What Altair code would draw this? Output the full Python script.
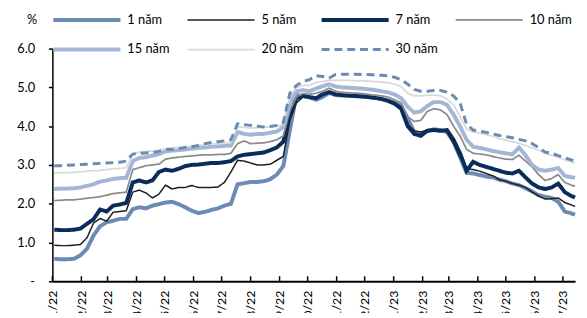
import altair as alt
import pandas as pd

series_names = ["1 năm", "5 năm", "7 năm", "10 năm", "15 năm", "20 năm", "30 năm"]
series_colors = ["#6b8bb5", "#1e1e1e", "#0a2c5a", "#8a8a8a", "#a3b6d3", "#d9d9d9", "#6b8bb5"]
series_widths = [4, 1.5, 4, 1.75, 4, 1.75, 3]
series_dashes = [[1, 0], [1, 0], [1, 0], [1, 0], [1, 0], [1, 0], [8, 5]]

dates = list(pd.date_range("2022-01-03", periods=80, freq="7D").strftime("%Y-%m-%d")) + ["2023-07-14"]
month_ticks = list(pd.date_range("2022-01-01", "2023-07-01", freq="MS").strftime("%Y-%m-%d"))
y_ticks = [0, 1, 2, 3, 4, 5, 6]

y1 = [0.58, 0.57, 0.57, 0.58, 0.67, 0.84, 1.18, 1.42, 1.52, 1.56, 1.61, 1.61, 1.86, 1.91, 1.88, 1.95, 1.99, 2.03, 2.05, 1.99, 1.91,
      1.82, 1.76, 1.79, 1.84, 1.88, 1.95, 2.0, 2.5, 2.53, 2.56, 2.56, 2.58, 2.63, 2.75, 2.97, 3.9, 4.8, 4.78, 4.74,
      4.68, 4.75, 4.86, 4.8, 4.79, 4.78, 4.77, 4.76, 4.75, 4.73, 4.7, 4.66, 4.6, 4.52, 4.2, 3.85, 3.8, 3.88, 3.92, 3.9,
      3.85, 3.6, 3.2, 2.8, 2.78, 2.74, 2.7, 2.68, 2.62, 2.58, 2.52, 2.48, 2.4, 2.32, 2.22, 2.18, 2.15, 2.05, 1.8, 1.75, 1.72]
y5 = [0.93, 0.92, 0.92, 0.93, 0.95, 1.12, 1.5, 1.62, 1.55, 1.78, 1.8, 1.82, 2.3, 2.35, 2.28, 2.15, 2.25, 2.48, 2.38, 2.42, 2.42,
      2.47, 2.42, 2.42, 2.42, 2.43, 2.55, 2.82, 3.12, 3.1, 3.05, 3.0, 3.0, 3.02, 3.12, 3.22, 4.15, 4.6, 4.75, 4.75,
      4.72, 4.8, 4.85, 4.8, 4.79, 4.78, 4.77, 4.76, 4.74, 4.72, 4.7, 4.66, 4.6, 4.5, 4.05, 3.88, 3.85, 3.9, 3.92, 3.9,
      3.85, 3.55, 3.2, 2.9, 2.88, 2.84, 2.78, 2.72, 2.62, 2.58, 2.52, 2.48, 2.42, 2.3, 2.2, 2.12, 2.13, 2.15, 2.03, 1.97, 1.93]
y7 = [1.33, 1.32, 1.32, 1.33, 1.36, 1.48, 1.6, 1.85, 1.8, 1.95, 1.98, 2.02, 2.55, 2.6, 2.55, 2.6, 2.82, 2.88, 2.85, 2.9, 2.97,
      3.0, 3.01, 3.03, 3.05, 3.05, 3.07, 3.1, 3.22, 3.26, 3.28, 3.3, 3.32, 3.38, 3.45, 3.6, 4.3, 4.72, 4.78, 4.75,
      4.72, 4.82, 4.88, 4.82, 4.8, 4.79, 4.78, 4.77, 4.75, 4.73, 4.7, 4.65, 4.58, 4.45, 4.0, 3.8, 3.75, 3.88, 3.9, 3.88,
      3.9, 3.65, 3.3, 2.85, 3.08, 3.0, 2.95, 2.9, 2.85, 2.8, 2.78, 2.85, 2.68, 2.52, 2.42, 2.38, 2.42, 2.52, 2.3, 2.2, 2.16]
y10 = [2.08, 2.09, 2.1, 2.1, 2.12, 2.14, 2.16, 2.18, 2.22, 2.26, 2.28, 2.3, 2.88, 2.93, 2.98, 3.0, 3.02, 3.15, 3.18, 3.2, 3.22,
       3.23, 3.25, 3.26, 3.26, 3.27, 3.27, 3.3, 3.55, 3.62, 3.55, 3.56, 3.57, 3.6, 3.65, 3.75, 4.4, 4.75, 4.84, 4.82,
       4.85, 4.9, 4.98, 4.9, 4.87, 4.86, 4.85, 4.84, 4.82, 4.8, 4.78, 4.75, 4.68, 4.6, 4.25, 4.12, 4.15, 4.38, 4.45, 4.42,
       4.3, 4.0, 3.75, 3.4, 3.3, 3.28, 3.26, 3.22, 3.18, 3.15, 3.14, 3.25, 3.1, 2.95, 2.75, 2.6, 2.65, 2.75, 2.55, 2.48, 2.45]
y15 = [2.38, 2.39, 2.39, 2.4, 2.42, 2.46, 2.5, 2.57, 2.6, 2.64, 2.66, 2.67, 3.1, 3.18, 3.2, 3.24, 3.28, 3.35, 3.37, 3.38, 3.4,
       3.42, 3.44, 3.45, 3.47, 3.48, 3.49, 3.5, 3.85, 3.8, 3.78, 3.8, 3.8, 3.83, 3.86, 3.98, 4.6, 4.9, 4.93, 4.9,
       4.97, 5.03, 5.08, 5.02, 5.0, 4.99, 4.98, 4.97, 4.95, 4.93, 4.9, 4.87, 4.82, 4.72, 4.5, 4.35, 4.38, 4.52, 4.62, 4.62,
       4.55, 4.3, 4.0, 3.65, 3.47, 3.44, 3.4, 3.36, 3.33, 3.3, 3.27, 3.45, 3.25, 3.0, 2.88, 2.85, 2.88, 2.92, 2.72, 2.68, 2.67]
y20 = [2.79, 2.8, 2.8, 2.81, 2.82, 2.84, 2.85, 2.86, 2.88, 2.9, 2.91, 2.93, 3.28, 3.33, 3.35, 3.36, 3.38, 3.42, 3.44, 3.45, 3.47,
       3.48, 3.5, 3.52, 3.54, 3.55, 3.56, 3.58, 3.98, 3.97, 3.95, 3.96, 3.97, 3.98, 4.0, 4.05, 4.75, 5.0, 5.05, 5.05,
       5.12, 5.15, 5.18, 5.18, 5.18, 5.18, 5.17, 5.17, 5.16, 5.15, 5.14, 5.12, 5.08, 5.02, 4.85, 4.78, 4.78, 4.8, 4.8, 4.78,
       4.7, 4.55, 4.25, 3.92, 3.85, 3.82, 3.78, 3.74, 3.68, 3.64, 3.6, 3.56, 3.5, 3.44, 3.38, 3.3, 3.25, 3.2, 3.13, 3.08, 3.05]
y30 = [2.98, 2.98, 2.99, 3.0, 3.01, 3.02, 3.03, 3.04, 3.05, 3.06, 3.07, 3.1, 3.28, 3.3, 3.31, 3.32, 3.35, 3.4, 3.4, 3.42, 3.45,
       3.47, 3.5, 3.55, 3.58, 3.6, 3.62, 3.65, 4.06, 4.04, 4.02, 4.0, 3.98, 3.99, 4.02, 4.1, 4.85, 5.05, 5.15, 5.2,
       5.3, 5.28, 5.24, 5.33, 5.34, 5.34, 5.34, 5.33, 5.33, 5.32, 5.31, 5.3, 5.26, 5.2, 5.08, 4.95, 4.9, 4.9, 4.92, 4.92,
       4.88, 4.78, 4.6, 4.05, 3.9, 3.87, 3.84, 3.8, 3.76, 3.73, 3.7, 3.66, 3.62, 3.55, 3.45, 3.33, 3.3, 3.24, 3.18, 3.13, 3.09]

all_values = [y1, y5, y7, y10, y15, y20, y30]

rows = []
for name, vals in zip(series_names, all_values):
    for d, v in zip(dates, vals):
        rows.append({"date": d, "series": name, "value": v})
df = pd.DataFrame(rows)
ticks_df = pd.DataFrame({"date": month_ticks})

FONT = "Lato"

x_scale = alt.Scale(
    type="utc",
    domain=[alt.DateTime(year=2022, month=1, date=1, utc=True),
            alt.DateTime(year=2023, month=7, date=14, utc=True)],
)
y_scale = alt.Scale(domain=[0, 6], nice=False, zero=True)

tick_values = [alt.DateTime(year=int(m[:4]), month=int(m[5:7]), date=1, utc=True) for m in month_ticks]

x_axis = alt.Axis(
    values=tick_values, labelExpr="utcFormat(datum.value, '%m/%y')", ticks=False,
    domain=True, domainColor="#000000", domainWidth=2,
    labelAngle=270, labelAlign="right", labelBaseline="middle", labelPadding=9,
    labelFontSize=12.5, labelFont=FONT, labelColor="#000000", labelFlush=False,
    labelOverlap=False, grid=False, title=None,
)
y_axis = alt.Axis(
    values=y_ticks,
    labelExpr="datum.value == 0 ? '-\u00a0\u00a0' : format(datum.value, '.1f')",
    grid=False, domain=True, domainColor="#000000", domainWidth=1.5,
    ticks=True, tickColor="#000000", tickWidth=1.5, tickSize=4,
    labelPadding=14, labelFontSize=13, labelFont=FONT, labelColor="#000000", labelOverlap=False,
    title="%", titleAngle=0, titleX=-21, titleY=-29, titleAlign="center", titleBaseline="middle",
    titleFontWeight="normal", titleFontSize=13, titleFont=FONT, titleColor="#000000",
)

legend = alt.Legend(
    orient="none", legendX=-1, legendY=-37, columns=4, direction="horizontal", title=None,
    symbolType="stroke", symbolSize=4624, clipHeight=16,
    labelFontSize=13, labelFont=FONT, labelColor="#000000", labelOffset=5,
    columnPadding=16, rowPadding=14, padding=0,
)

lines = alt.Chart(df).mark_line().encode(
    x=alt.X("date:T", scale=x_scale, axis=x_axis),
    y=alt.Y("value:Q", scale=y_scale, axis=y_axis),
    color=alt.Color("series:N", scale=alt.Scale(domain=series_names, range=series_colors), legend=legend),
    strokeWidth=alt.StrokeWidth("series:N", scale=alt.Scale(type="ordinal", domain=series_names, range=series_widths), legend=legend),
    strokeDash=alt.StrokeDash("series:N", scale=alt.Scale(domain=series_names, range=series_dashes), legend=legend),
)

# inward month ticks on the x axis
tick_rules = alt.Chart(ticks_df).mark_rule(color="#000000", strokeWidth=1.5).encode(
    x=alt.X("date:T", scale=x_scale, axis=x_axis),
    y=alt.YDatum(0, axis=y_axis, scale=y_scale),
    y2=alt.datum(0.13),
)

chart = alt.layer(lines, tick_rules).properties(
    width=530, height=236,
    autosize=alt.AutoSizeParams(type="none"),
    padding={"left": 45, "top": 39, "right": 4, "bottom": 30},
).configure_view(stroke=None)

chart.save("out.html", embed_options={"renderer": "svg", "actions": False})
